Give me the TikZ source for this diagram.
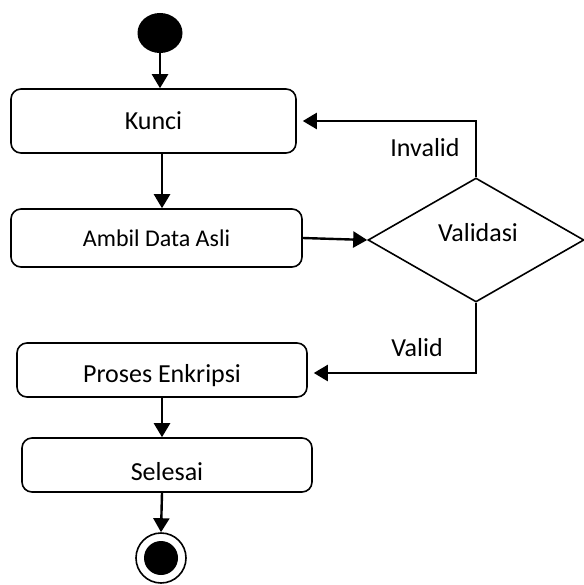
\documentclass[tikz,border=0pt]{standalone}
\usepackage{fontspec}
\setmainfont{Carlito}
\usetikzlibrary{shapes.geometric,arrows.meta}
\begin{document}
\begin{tikzpicture}[x=1pt,y=-1pt,
  actbox/.style={draw,line width=1.6pt,rounded corners=10pt,inner sep=0pt,
    font=\fontsize{26}{30}\selectfont},
  flow/.style={line width=2.4pt,-{Triangle[length=14pt,width=16pt]}},
  lbl/.style={inner sep=0pt,font=\fontsize{26}{30}\selectfont}]
\useasboundingbox (0,0) rectangle (583,585);
\node[fill=black,ellipse,minimum width=45pt,minimum height=40pt,inner sep=0pt] (start) at (160,33) {};
\node[actbox,minimum width=285pt,minimum height=64pt] (kunci) at (153.5,121) {Kunci};
\node[actbox,minimum width=291pt,minimum height=58pt,font=\fontsize{24}{28}\selectfont] (ambil) at (156.5,238) {Ambil Data Asli};
\node[draw,line width=1.6pt,diamond,inner sep=0pt,minimum width=216pt,minimum height=124pt] (val) at (476,240) {};
\node[lbl] (valtxt) at (478,233) {Validasi};
\node[actbox,minimum width=290pt,minimum height=54pt,text height=25pt,text depth=0pt] (proses) at (162,370) {Proses Enkripsi};
\node[actbox,minimum width=290pt,minimum height=54pt,text height=30pt,text depth=0pt] (selesai) at (167,465) {Selesai};
\node[draw,circle,line width=1.6pt,minimum size=50pt,inner sep=0pt] (end) at (161,558) {};
\node[fill=black,circle,minimum size=34pt,inner sep=0pt] (endin) at (161,558) {};
\node[lbl] (inv) at (425,148) {Invalid};
\node[lbl] (vld) at (417,348) {Valid};
\coordinate (c1) at (162,0);
\draw[flow] (start.south) -- (kunci.north -| start.south);
\draw[flow] (kunci.south -| c1) -- (ambil.north -| c1);
\draw[flow] (ambil.east) -- (val.west);
\draw[flow,shorten >=6pt] (val.north) |- (kunci.east);
\draw[flow,shorten >=6pt] (val.south) |- ([yshift=-3pt]proses.east);
\draw[flow] (proses.south -| c1) -- (selesai.north -| c1);
\draw[flow] (selesai.south -| c1) -- (end.north);
\end{tikzpicture}
\end{document}
